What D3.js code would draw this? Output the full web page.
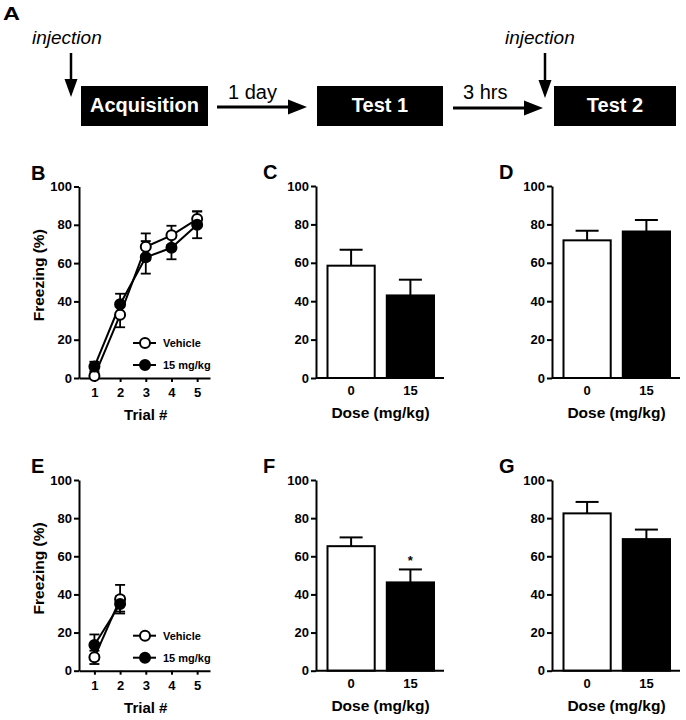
<!DOCTYPE html>
<html><head><meta charset="utf-8">
<script src="https://cdn.jsdelivr.net/npm/d3@7"></script>
<style>
body{margin:0;background:#fff}
svg{display:block}
text{font-family:"Liberation Sans",Arial,Helvetica,sans-serif}
</style></head><body>
<script>
// ---------- data ----------
const trials = [1, 2, 3, 4, 5];
const bVehicle = [1, 33, 68.5, 74.5, 83];
const bVehicleSem = [1.5, 6.5, 7, 5, 4];
const bDrug = [6, 38.5, 63, 68, 80];
const bDrugSem = [2.5, 5.5, 8.5, 6, 7];

const eTrials = [1, 2];
const eVehicle = [7, 37.5];
const eVehicleSem = [3.5, 7.5];
const eDrug = [13.5, 35];
const eDrugSem = [5.5, 4];

const doses = ["0", "15"];
const cMeans = [58.5, 43], cSem = [8.3, 8.2];
const dMeans = [71.7, 76.3], dSem = [5, 6];
const fMeans = [65.3, 46.3], fSem = [4.6, 6.8];
const gMeans = [82.5, 69], gSem = [6, 5];

const yTicks = [0, 20, 40, 60, 80, 100];
const seriesNames = ["Vehicle", "15 mg/kg"];

// ---------- svg ----------
const svg = d3.select("body").append("svg").attr("width", 686).attr("height", 720);

// ---------- schematic (panel A) ----------
const A = svg.append("g");
A.append("text").attr("x", 3).attr("y", 19.5).attr("font-size", 19).attr("font-weight", "bold")
  .attr("textLength", 17).attr("lengthAdjust", "spacingAndGlyphs").text("A");
const boxes = [
  {x0: 81, x1: 208, label: "Acquisition"},
  {x0: 317, x1: 443, label: "Test 1"},
  {x0: 554, x1: 676, label: "Test 2"}
];
boxes.forEach(b => {
  A.append("rect").attr("x", b.x0).attr("y", 86).attr("width", b.x1 - b.x0).attr("height", 40).attr("fill", "#000");
  A.append("text").attr("x", (b.x0 + b.x1) / 2).attr("y", 112).attr("text-anchor", "middle")
    .attr("font-size", 20).attr("font-weight", "bold").attr("fill", "#fff").text(b.label);
});
function hArrow(x0, x1, y) {
  A.append("line").attr("x1", x0).attr("x2", x1 - 16).attr("y1", y).attr("y2", y).attr("stroke", "#000").attr("stroke-width", 3);
  A.append("path").attr("d", `M${x1},${y} L${x1 - 19},${y - 7.5} L${x1 - 19},${y + 7.5} Z`).attr("fill", "#000");
}
function vArrow(x, y0, y1) {
  A.append("line").attr("x1", x).attr("x2", x).attr("y1", y0).attr("y2", y1 - 14).attr("stroke", "#000").attr("stroke-width", 2.5);
  A.append("path").attr("d", `M${x},${y1} L${x - 6.5},${y1 - 18} L${x + 6.5},${y1 - 18} Z`).attr("fill", "#000");
}
hArrow(217, 307, 107);
hArrow(453, 543, 108);
vArrow(71, 53, 97);
vArrow(545, 53, 98);
A.append("text").attr("x", 228).attr("y", 99).attr("font-size", 20).text("1 day");
A.append("text").attr("x", 463).attr("y", 99).attr("font-size", 20).text("3 hrs");
A.append("text").attr("x", 32).attr("y", 44).attr("font-size", 19).attr("font-style", "italic").text("injection");
A.append("text").attr("x", 505).attr("y", 44).attr("font-size", 19).attr("font-style", "italic").text("injection");

// ---------- helpers ----------
function yAxis(g, y, ax) {
  const a = g.append("g").attr("transform", `translate(${ax},0)`)
    .call(d3.axisLeft(y).tickValues(yTicks).tickSize(5).tickPadding(2).tickSizeOuter(0));
  a.select(".domain").attr("stroke-width", 2);
  a.selectAll(".tick line").attr("stroke-width", 2);
  a.selectAll("text").attr("font-size", 13).attr("font-weight", "bold").attr("font-family", "Liberation Sans, Arial, sans-serif");
}

function linePanel(o) {
  const g = svg.append("g");
  const x = d3.scaleLinear().domain([0.4, 5.5]).range([o.ax, o.ax + 131]);
  const y = d3.scaleLinear().domain([0, 100]).range([o.yBot, o.yTop]);
  g.append("text").attr("x", 31).attr("y", o.yTop - 7).attr("font-size", 20).attr("font-weight", "bold").text(o.letter);
  // x axis
  const xa = g.append("g").attr("transform", `translate(0,${o.yBot})`)
    .call(d3.axisBottom(x).tickValues(trials).tickFormat(d3.format("d")).tickSize(4).tickPadding(6).tickSizeOuter(0));
  xa.select(".domain").attr("stroke-width", 2);
  xa.selectAll(".tick line").attr("stroke-width", 2);
  xa.selectAll("text").attr("font-size", 13).attr("font-weight", "bold").attr("font-family", "Liberation Sans, Arial, sans-serif");
  yAxis(g, y, o.ax);
  g.append("text").attr("x", x(3)).attr("y", o.yBot + 42).attr("text-anchor", "middle").attr("font-size", 15).attr("font-weight", "bold").text("Trial #");
  g.append("text").attr("transform", `translate(44,${(o.yTop + o.yBot) / 2 - 7}) rotate(-90)`).attr("text-anchor", "middle")
    .attr("font-size", 15.5).attr("font-weight", "bold").text("Freezing (%)");

  const series = [
    {m: o.veh, s: o.vehSem, fill: "#fff"},
    {m: o.drug, s: o.drugSem, fill: "#000"}
  ];
  const line = d3.line().x((d, i) => x(o.xs[i])).y(d => y(d));
  series.forEach(sr => {
    g.append("path").attr("d", line(sr.m)).attr("fill", "none").attr("stroke", "#000").attr("stroke-width", 2);
  });
  series.forEach(sr => {
    sr.m.forEach((v, i) => {
      const cx = x(o.xs[i]), lo = y(Math.max(0, v - sr.s[i])), hi = y(v + sr.s[i]);
      g.append("line").attr("x1", cx).attr("x2", cx).attr("y1", lo).attr("y2", hi).attr("stroke", "#000").attr("stroke-width", 1.8);
      [lo, hi].forEach(yy => g.append("line").attr("x1", cx - 5).attr("x2", cx + 5).attr("y1", yy).attr("y2", yy).attr("stroke", "#000").attr("stroke-width", 1.8));
    });
  });
  series.forEach(sr => {
    g.selectAll(null).data(sr.m).enter().append("circle")
      .attr("cx", (d, i) => x(o.xs[i])).attr("cy", d => y(d)).attr("r", 5)
      .attr("fill", sr.fill).attr("stroke", "#000").attr("stroke-width", 2);
  });
  // legend
  series.forEach((sr, k) => {
    const ly = o.yBot - 35 + k * 22;
    g.append("line").attr("x1", o.ax + 54).attr("x2", o.ax + 77).attr("y1", ly).attr("y2", ly).attr("stroke", "#000").attr("stroke-width", 2);
    g.append("circle").attr("cx", o.ax + 66).attr("cy", ly).attr("r", 5).attr("fill", sr.fill).attr("stroke", "#000").attr("stroke-width", 2);
    g.append("text").attr("x", o.ax + 84).attr("y", ly + 4).attr("font-size", 11).attr("font-weight", "bold").text(seriesNames[k]);
  });
}

function barPanel(o) {
  const g = svg.append("g");
  const x = d3.scaleBand().domain(doses).range([o.ax + 10.5, o.ax + 119]).paddingInner(0.17).paddingOuter(0);
  const y = d3.scaleLinear().domain([0, 100]).range([o.yBot, o.yTop]);
  g.append("text").attr("x", o.ax - 53).attr("y", o.yTop - 7).attr("font-size", 20).attr("font-weight", "bold").text(o.letter);
  const fills = ["#fff", "#000"];
  // error bars (upward)
  doses.forEach((d, i) => {
    const cx = x(d) + x.bandwidth() / 2, top = y(o.means[i] + o.sem[i]);
    g.append("line").attr("x1", cx).attr("x2", cx).attr("y1", y(o.means[i])).attr("y2", top).attr("stroke", "#000").attr("stroke-width", 2);
    g.append("line").attr("x1", cx - 11.5).attr("x2", cx + 11.5).attr("y1", top).attr("y2", top).attr("stroke", "#000").attr("stroke-width", 2);
  });
  g.selectAll(null).data(o.means).enter().append("rect")
    .attr("x", (d, i) => x(doses[i]) + 1).attr("width", x.bandwidth() - 2)
    .attr("y", d => y(d)).attr("height", d => y(0) - y(d))
    .attr("fill", (d, i) => fills[i]).attr("stroke", "#000").attr("stroke-width", 2);
  if (o.star) {
    const i = 1;
    g.append("text").attr("x", x(doses[i]) + x.bandwidth() / 2).attr("y", y(o.means[i] + o.sem[i]) - 4)
      .attr("text-anchor", "middle").attr("font-size", 13).attr("font-weight", "bold").text("*");
  }
  // x axis
  g.append("line").attr("x1", o.ax).attr("x2", o.ax + 128).attr("y1", y(0)).attr("y2", y(0)).attr("stroke", "#000").attr("stroke-width", 2);
  const xa = g.append("g").attr("transform", `translate(0,${o.yBot})`).call(d3.axisBottom(x).tickSize(0).tickPadding(8));
  xa.select(".domain").remove();
  xa.selectAll("text").attr("font-size", 13).attr("font-weight", "bold").attr("font-family", "Liberation Sans, Arial, sans-serif");
  yAxis(g, y, o.ax);
  g.append("text").attr("x", o.ax + 64.5).attr("y", o.yBot + 40).attr("text-anchor", "middle").attr("font-size", 15.5).attr("font-weight", "bold").text("Dose (mg/kg)");
}

linePanel({letter: "B", ax: 79, yTop: 186.5, yBot: 378, xs: trials, veh: bVehicle, vehSem: bVehicleSem, drug: bDrug, drugSem: bDrugSem});
linePanel({letter: "E", ax: 79, yTop: 480, yBot: 670.7, xs: eTrials, veh: eVehicle, vehSem: eVehicleSem, drug: eDrug, drugSem: eDrugSem});
barPanel({letter: "C", ax: 316, yTop: 186, yBot: 378, means: cMeans, sem: cSem});
barPanel({letter: "D", ax: 552, yTop: 186, yBot: 378, means: dMeans, sem: dSem});
barPanel({letter: "F", ax: 316, yTop: 480, yBot: 670.7, means: fMeans, sem: fSem, star: true});
barPanel({letter: "G", ax: 552, yTop: 480, yBot: 670.7, means: gMeans, sem: gSem});
</script>
</body></html>
